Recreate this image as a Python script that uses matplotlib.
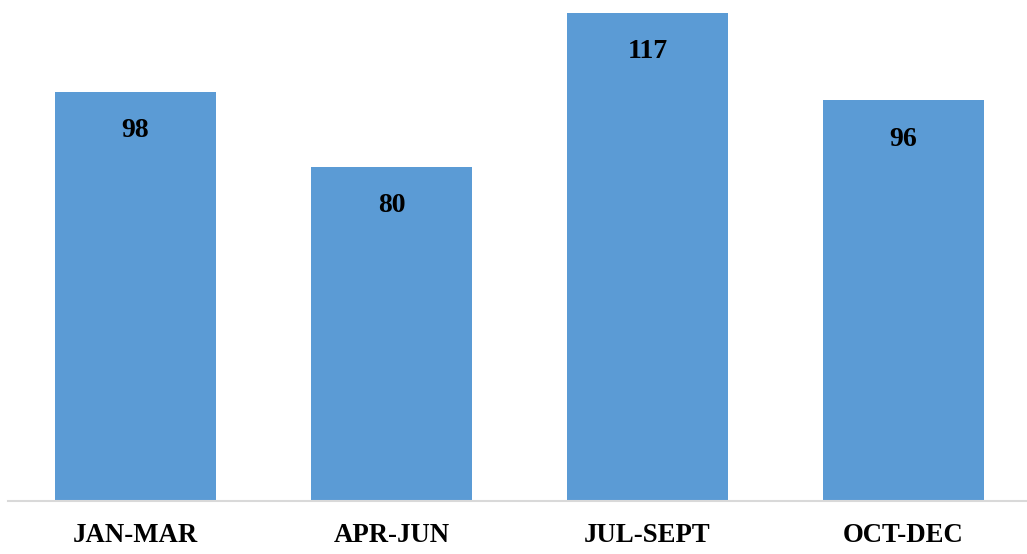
import matplotlib.pyplot as plt

quarters = ['JAN-MAR', 'APR-JUN', 'JUL-SEPT', 'OCT-DEC']
counts = [98, 80, 117, 96]

plt.rcParams['font.family'] = ['Liberation Serif', 'DejaVu Serif']

fig = plt.figure(figsize=(10.27, 5.54), dpi=100)
# axes run a little past the right edge so the category spacing stays at 256 px
ax = fig.add_axes([7.5 / 1027, 53 / 554, 1024 / 1027, 501 / 554])

bars = ax.bar(range(len(quarters)), counts, width=0.63, color='#5B9BD5')

for rect, v in zip(bars, counts):
    ax.annotate(str(v), xy=(rect.get_x() + rect.get_width() / 2, v),
                xytext=(0, -28), textcoords='offset points',
                ha='center', va='center', fontsize=20, fontweight='bold')

ax.set_xlim(-0.5, len(quarters) - 0.5)
ax.set_ylim(0, 120)
ax.set_xticks(range(len(quarters)))
ax.set_xticklabels(quarters, fontsize=19.3, fontweight='bold')
ax.tick_params(axis='x', length=0, pad=16)
ax.set_yticks([])

for side in ['top', 'right', 'left']:
    ax.spines[side].set_visible(False)
ax.spines['bottom'].set_color('#D9D9D9')
ax.spines['bottom'].set_linewidth(1.5)

fig.savefig('out.png', dpi=100)
